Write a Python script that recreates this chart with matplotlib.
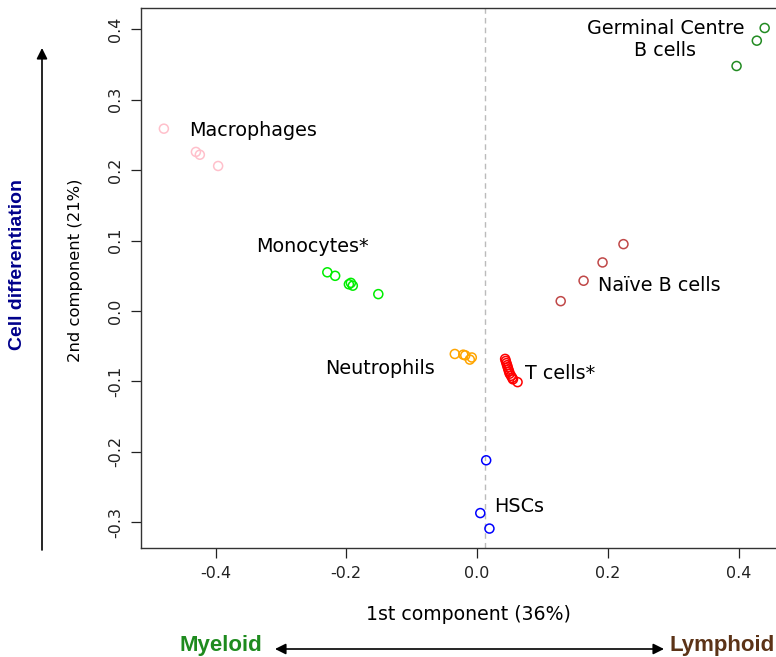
import numpy as np
import matplotlib
matplotlib.use("Agg")
import matplotlib.pyplot as plt

# PCA coordinates
groups = ["Macrophages", "Monocytes*", "Neutrophils", "T cells*",
          "HSCs", "Naïve B cells", "Germinal Centre\nB cells"]

macro_x = [-0.479, -0.430, -0.424, -0.396]
macro_y = [0.259, 0.226, 0.222, 0.206]

mono_x = [-0.229, -0.217, -0.196, -0.193, -0.190, -0.151]
mono_y = [0.055, 0.050, 0.038, 0.040, 0.036, 0.024]

neut_x = [-0.034, -0.021, -0.018, -0.008, -0.011]
neut_y = [-0.061, -0.062, -0.063, -0.066, -0.069]

tcell_x = [0.043, 0.044, 0.045, 0.046, 0.047, 0.048, 0.049, 0.050,
           0.052, 0.054, 0.055, 0.062]
tcell_y = [-0.068, -0.071, -0.074, -0.077, -0.080, -0.083, -0.086,
           -0.089, -0.092, -0.095, -0.097, -0.101]

hsc_x = [0.014, 0.005, 0.019]
hsc_y = [-0.212, -0.287, -0.309]

naiveb_x = [0.128, 0.163, 0.192, 0.224]
naiveb_y = [0.014, 0.043, 0.069, 0.095]

gcb_x = [0.397, 0.428, 0.440]
gcb_y = [0.348, 0.384, 0.402]

colours = ["pink", "#00EE00", "orange", "red", "blue", "#C04848", "#228B22"]

# label anchor points (data units)
label_x = [-0.343, -0.252, -0.148, 0.127, 0.064, 0.279, 0.288]
label_y = [0.256, 0.091, -0.082, -0.089, -0.278, 0.036, 0.386]

vline_x = 0.012

xs = [macro_x, mono_x, neut_x, tcell_x, hsc_x, naiveb_x, gcb_x]
ys = [macro_y, mono_y, neut_y, tcell_y, hsc_y, naiveb_y, gcb_y]

fig = plt.figure(figsize=(7.76, 6.57), dpi=100)
ax = fig.add_axes([141/776, 109/657, 654/776, 540/657])

ax.axvline(vline_x, color="#BBBBBB", ls=(0, (4, 3)), lw=1, zorder=0)

for x, y, c in zip(xs, ys, colours):
    ax.scatter(x, y, s=42, facecolors="none", edgecolors=c, linewidths=1.1)

for name, lx, ly in zip(groups, label_x, label_y):
    ax.text(lx, ly, name, ha="center", va="center", fontsize=13.8,
            linespacing=1.2)

ax.set_xlim(-0.514, 0.4864)
ax.set_ylim(-0.3366, 0.4304)
ax.set_xticks([-0.4, -0.2, 0.0, 0.2, 0.4])
ax.set_yticks([-0.3, -0.2, -0.1, 0.0, 0.1, 0.2, 0.3, 0.4])
ax.set_xticklabels(["-0.4", "-0.2", "0.0", "0.2", "0.4"])
ax.set_yticklabels(["-0.3", "-0.2", "-0.1", "0.0", "0.1", "0.2", "0.3", "0.4"],
                   rotation=90, va="center")
ax.tick_params(direction="out", length=7, width=0.9, labelsize=11.5, pad=6,
               colors="#222222")
for s in ax.spines.values():
    s.set_linewidth(1.0)
    s.set_color("#333333")

ax.set_xlabel("1st component (36%)", fontsize=13.6, labelpad=17)
ax.set_ylabel("2nd component (21%)", fontsize=11.8, labelpad=12)
ax.yaxis.set_label_coords(-58/654, 0.515)

# annotations outside the plot
fig.text(18/776, 1 - 265/657, "Cell differentiation", rotation=90,
         ha="center", va="center", fontsize=14, fontweight="bold",
         color="#00008B", family="Liberation Sans")
fig.text(221/776, 1 - 645/657, "Myeloid", ha="center", va="center",
         fontsize=16, fontweight="bold", color="#1E8B1E",
         family="Liberation Sans")
fig.text(722/776, 1 - 645/657, "Lymphoid", ha="center", va="center",
         fontsize=16, fontweight="bold", color="#5C3317",
         family="Liberation Sans")

ax.annotate("", xy=(42/776, 1 - 48/657), xytext=(42/776, 1 - 550/657),
            xycoords="figure fraction", textcoords="figure fraction",
            arrowprops=dict(arrowstyle="-|>", color="black", lw=1.2,
                            mutation_scale=16, shrinkA=0, shrinkB=0),
            annotation_clip=False)
ax.annotate("", xy=(275/776, 1 - 649/657), xytext=(664/776, 1 - 649/657),
            xycoords="figure fraction", textcoords="figure fraction",
            arrowprops=dict(arrowstyle="<|-|>", color="black", lw=1.2,
                            mutation_scale=16, shrinkA=0, shrinkB=0),
            annotation_clip=False)

fig.savefig("out.png", dpi=100)
